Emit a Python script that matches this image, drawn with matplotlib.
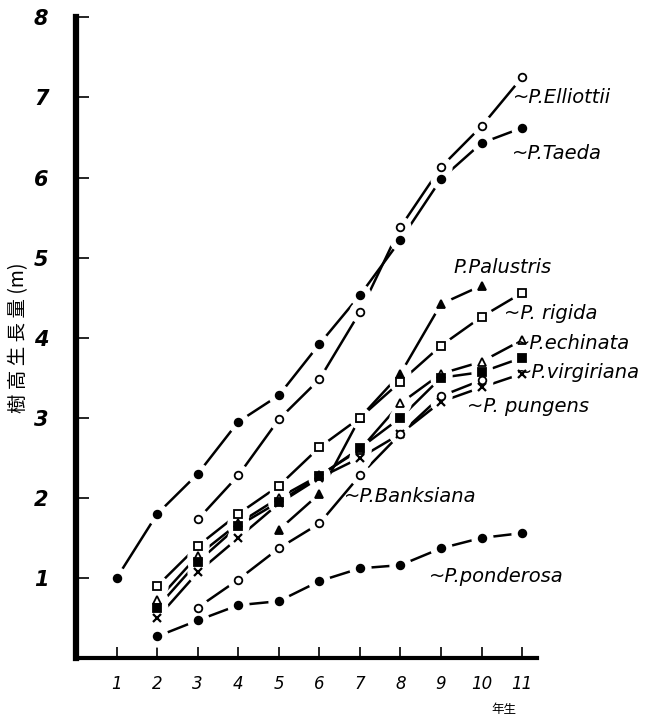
import numpy as np
import matplotlib
matplotlib.use('agg')
import matplotlib.pyplot as plt

# data (tree height growth, m)
taeda_x = [1, 2, 3, 4, 5, 6, 7, 8, 9, 10, 11]
taeda_y = [1.0, 1.8, 2.3, 2.95, 3.28, 3.92, 4.53, 5.22, 5.98, 6.43, 6.62]
elliottii_x = [3, 4, 5, 6, 7, 8, 9, 10, 11]
elliottii_y = [1.73, 2.28, 2.98, 3.48, 4.32, 5.38, 6.13, 6.64, 7.25]
palustris_x = [5, 6, 7, 8, 9, 10]
palustris_y = [1.6, 2.05, 3.0, 3.55, 4.42, 4.65]
rigida_x = [2, 3, 4, 5, 6, 7, 8, 9, 10, 11]
rigida_y = [0.9, 1.4, 1.8, 2.15, 2.63, 3.0, 3.45, 3.9, 4.26, 4.56]
echinata_x = [2, 3, 4, 5, 6, 7, 8, 9, 10, 11]
echinata_y = [0.72, 1.28, 1.68, 2.0, 2.28, 2.6, 3.18, 3.55, 3.7, 3.97]
virgiriana_x = [2, 3, 4, 5, 6, 7, 8, 9, 10, 11]
virgiriana_y = [0.63, 1.2, 1.65, 1.95, 2.27, 2.62, 3.0, 3.5, 3.57, 3.75]
pungens_x = [2, 3, 4, 5, 6, 7, 8, 9, 10, 11]
pungens_y = [0.5, 1.07, 1.5, 1.93, 2.25, 2.5, 2.8, 3.2, 3.38, 3.55]
banksiana_x = [3, 4, 5, 6, 7, 8, 9, 10]
banksiana_y = [0.63, 0.98, 1.37, 1.68, 2.28, 2.8, 3.27, 3.47]
ponderosa_x = [2, 3, 4, 5, 6, 7, 8, 9, 10, 11]
ponderosa_y = [0.27, 0.47, 0.66, 0.71, 0.96, 1.12, 1.16, 1.37, 1.5, 1.56]

xticks = list(range(1, 12))
yticks = list(range(1, 9))

# (x, y, marker, filled)
series = [
    (taeda_x, taeda_y, 'o', True),
    (elliottii_x, elliottii_y, 'o', False),
    (palustris_x, palustris_y, '^', True),
    (rigida_x, rigida_y, 's', False),
    (echinata_x, echinata_y, '^', False),
    (virgiriana_x, virgiriana_y, 's', True),
    (pungens_x, pungens_y, 'x', True),
    (banksiana_x, banksiana_y, 'o', False),
    (ponderosa_x, ponderosa_y, 'o', True),
]

# label text, x, y (data coords)
labels = [
    ('~P.Elliottii', 10.78, 7.0),
    ('~P.Taeda', 10.75, 6.3),
    ('P.Palustris', 9.3, 4.88),
    ('~P. rigida', 10.55, 4.3),
    ('~P.echinata', 10.8, 3.93),
    ('~P.virgiriana', 10.85, 3.57),
    ('~P. pungens', 9.65, 3.14),
    ('~P.Banksiana', 6.6, 2.02),
    ('~P.ponderosa', 8.7, 1.02),
]

fig = plt.figure(figsize=(6.51, 7.22), dpi=100)
ax = fig.add_axes([0.117, 0.0886, 0.708, 0.8874])

for xs, ys, m, filled in series:
    ax.plot(xs, ys, '-', color='black', lw=1.8, zorder=1)
for xs, ys, m, filled in series:
    # white halo to leave the small gaps around points
    ax.plot(xs, ys, 'o', ms=15, mfc='white', mec='white', zorder=2)
for xs, ys, m, filled in series:
    if m == 'x':
        ax.plot(xs, ys, 'x', ms=5.5, mew=1.6, color='black', zorder=3)
    else:
        ax.plot(xs, ys, m, ms=5.5, mew=1.3, mec='black',
                mfc='black' if filled else 'white', zorder=3)

for txt, x, y in labels:
    ax.text(x, y, txt, fontsize=14, style='italic', family='Liberation Sans Narrow',
            ha='left', va='center')

ax.set_xlim(0, 11.37)
ax.set_ylim(0, 8)
ax.set_xticks(xticks)
ax.set_xticklabels([str(v) for v in xticks], style='italic', fontsize=12)
ax.set_yticks(yticks)
ax.set_yticklabels([str(v) for v in yticks], style='italic', fontweight='bold', fontsize=15)
ax.tick_params(axis='y', direction='in', length=9, width=1.2, pad=20)
ax.tick_params(axis='x', direction='in', length=8, width=1.2, pad=12)

ax.spines['top'].set_visible(False)
ax.spines['right'].set_visible(False)
ax.spines['left'].set_linewidth(4.5)
ax.spines['bottom'].set_linewidth(3)

fig.text(0.028, 0.532, '樹 高 生 長 量 (m)', family=['Noto Sans CJK JP', 'DejaVu Sans'],
         fontsize=14, rotation=90, ha='center', va='center')
fig.text(0.755, 0.013, '年生', family=['Noto Sans CJK JP', 'DejaVu Sans'], fontsize=9)

fig.savefig('out.png', dpi=100)
